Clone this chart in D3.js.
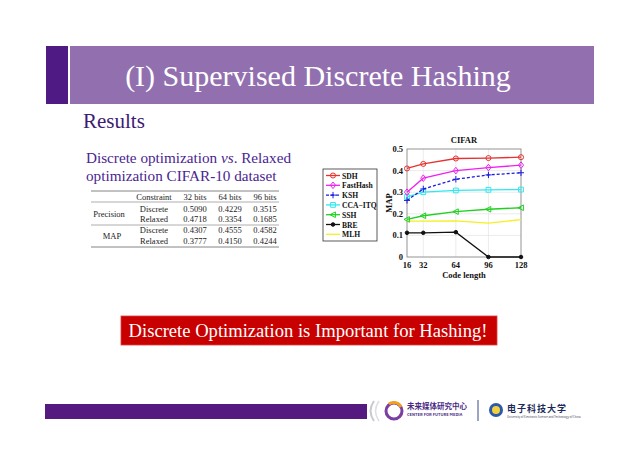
<!DOCTYPE html>
<html>
<head>
<meta charset="utf-8">
<script src="https://cdn.jsdelivr.net/npm/d3@7"></script>
<style>
  body { margin: 0; background: #fff; }
  svg { display: block; }
</style>
</head>
<body>
<svg id="slide"></svg>
<script>
// chart data
var codeLengths = [16, 32, 64, 96, 128];
var methodNames = ["SDH", "FastHash", "KSH", "CCA\u2212ITQ", "SSH", "BRE", "MLH"];
var sdhMap      = [0.410, 0.431, 0.456, 0.458, 0.462];
var fastHashMap = [0.300, 0.365, 0.400, 0.414, 0.425];
var kshMap      = [0.262, 0.315, 0.360, 0.380, 0.390];
var ccaItqMap   = [0.278, 0.300, 0.308, 0.311, 0.312];
var sshMap      = [0.174, 0.191, 0.210, 0.221, 0.228];
var breMap      = [0.112, 0.112, 0.115, 0.000, 0.000];
var mlhMap      = [0.166, 0.166, 0.167, 0.157, 0.173];
var yTicks = [0, 0.1, 0.2, 0.3, 0.4, 0.5];

// table data
var tableHeader = ["Constraint", "32 bits", "64 bits", "96 bits"];
var precisionDiscrete = [0.5090, 0.4229, 0.3515];
var precisionRelaxed  = [0.4718, 0.3354, 0.1685];
var mapDiscrete = [0.4307, 0.4555, 0.4582];
var mapRelaxed  = [0.3777, 0.4150, 0.4244];

var W = 640, H = 452;
var SERIF = "'Liberation Serif', 'Times New Roman', serif";
var CJK = "'Noto Sans CJK SC', 'Noto Sans', sans-serif";
var svg = d3.select("#slide").attr("width", W).attr("height", H).attr("font-family", SERIF);
svg.append("rect").attr("width", W).attr("height", H).attr("fill", "#fff");

// ---- title bar ----
svg.append("rect").attr("x", 46).attr("y", 46).attr("width", 22).attr("height", 58).attr("fill", "#4f1a84");
svg.append("rect").attr("x", 70).attr("y", 46).attr("width", 524).attr("height", 58).attr("fill", "#9270b0");
svg.append("text").attr("x", 318).attr("y", 86).attr("text-anchor", "middle")
   .attr("font-size", 30).attr("fill", "#fff").text("(I) Supervised Discrete Hashing");

svg.append("text").attr("x", 83).attr("y", 128).attr("font-size", 21).attr("fill", "#3c1c72").text("Results");

var sub = svg.append("text").attr("font-size", 15.2).attr("fill", "#4a2590");
sub.append("tspan").attr("x", 86).attr("y", 163).text("Discrete optimization ");
sub.append("tspan").attr("font-style", "italic").text("vs");
sub.append("tspan").text(". Relaxed");
sub.append("tspan").attr("x", 86).attr("y", 181).text("optimization CIFAR-10 dataset");

// ---- table ----
var fmt = d3.format(".4f");
var colX = [154, 195, 230, 265];
var tbl = svg.append("g").attr("font-size", 8.5).attr("fill", "#222").attr("text-anchor", "middle");
var rule = function(y, c) {
  tbl.append("line").attr("x1", 91).attr("x2", 279).attr("y1", y).attr("y2", y)
     .attr("stroke", c).attr("stroke-width", 0.8);
};
rule(191, "#666"); rule(202, "#999"); rule(225, "#999"); rule(247, "#666");
tableHeader.forEach(function(h, i) {
  tbl.append("text").attr("x", colX[i]).attr("y", 199.5).text(h);
});
var rows = [
  {c: "Discrete", v: precisionDiscrete, y: 211.5},
  {c: "Relaxed",  v: precisionRelaxed,  y: 222},
  {c: "Discrete", v: mapDiscrete,       y: 233},
  {c: "Relaxed",  v: mapRelaxed,        y: 243.5}
];
rows.forEach(function(r) {
  tbl.append("text").attr("x", colX[0]).attr("y", r.y).text(r.c);
  r.v.forEach(function(v, i) {
    tbl.append("text").attr("x", colX[i + 1]).attr("y", r.y).text(fmt(v));
  });
});
tbl.append("text").attr("x", 109).attr("y", 217).text("Precision");
tbl.append("text").attr("x", 112).attr("y", 238.5).text("MAP");

// ---- chart ----
var x = d3.scaleLinear().domain([16, 128]).range([407, 521]);
var y = d3.scaleLinear().domain([0, 0.5]).range([257, 149]);

var ch = svg.append("g");
// grid
ch.selectAll(".gx").data(codeLengths.slice(1, -1)).enter().append("line")
  .attr("x1", d => x(d)).attr("x2", d => x(d)).attr("y1", y(0)).attr("y2", y(0.5))
  .attr("stroke", "#e2e2e2").attr("stroke-width", 0.7);
ch.selectAll(".gy").data(yTicks.slice(1, -1)).enter().append("line")
  .attr("x1", x(16)).attr("x2", x(128)).attr("y1", d => y(d)).attr("y2", d => y(d))
  .attr("stroke", "#e2e2e2").attr("stroke-width", 0.7);
ch.append("rect").attr("x", x(16)).attr("y", y(0.5)).attr("width", x(128) - x(16))
  .attr("height", y(0) - y(0.5)).attr("fill", "none").attr("stroke", "#888").attr("stroke-width", 0.9);

var symPaths = {
  circle:   d3.symbol().type(d3.symbolCircle).size(20)(),
  diamond:  "M0,-3.3L2.6,0L0,3.3L-2.6,0Z",
  plus:     "M-3,0H3M0,-3.2V3.2",
  square:   "M-2.4,-2.4H2.4V2.4H-2.4Z",
  tri:      "M-3,0L2.4,-2.8L2.4,2.8Z",
  dot:      d3.symbol().type(d3.symbolCircle).size(10)(),
  none:     ""
};
var series = [
  {name: methodNames[0], vals: sdhMap,      color: "#e8322f", dash: null,  sym: "circle",  fill: "none"},
  {name: methodNames[1], vals: fastHashMap, color: "#f020f0", dash: null,  sym: "diamond", fill: "none"},
  {name: methodNames[2], vals: kshMap,      color: "#1a1ae0", dash: "3,2", sym: "plus",    fill: "none"},
  {name: methodNames[3], vals: ccaItqMap,   color: "#30e8f0", dash: null,  sym: "square",  fill: "none"},
  {name: methodNames[4], vals: sshMap,      color: "#20d020", dash: null,  sym: "tri",     fill: "none"},
  {name: methodNames[5], vals: breMap,      color: "#111",    dash: null,  sym: "dot",     fill: "#111"},
  {name: methodNames[6], vals: mlhMap,      color: "#f4f020", dash: null,  sym: "none",    fill: "none"}
];
var line = d3.line().x((d, i) => x(codeLengths[i])).y(d => y(d));
series.slice().reverse().forEach(function(s) {
  ch.append("path").attr("d", line(s.vals)).attr("fill", "none").attr("stroke", s.color)
    .attr("stroke-width", 1.3).attr("stroke-dasharray", s.dash);
  ch.selectAll(null).data(s.vals).enter().append("path")
    .attr("transform", (d, i) => "translate(" + x(codeLengths[i]) + "," + y(d) + ")")
    .attr("d", symPaths[s.sym]).attr("fill", s.fill).attr("stroke", s.color).attr("stroke-width", 1);
});

var lab = svg.append("g").attr("font-size", 8.5).attr("font-weight", "bold").attr("fill", "#111");
yTicks.forEach(function(t) {
  lab.append("text").attr("x", 403).attr("y", y(t) + 3).attr("text-anchor", "end").text(t === 0 ? "0" : t);
});
codeLengths.forEach(function(c) {
  lab.append("text").attr("x", x(c)).attr("y", 267.5).attr("text-anchor", "middle").text(c);
});
lab.append("text").attr("x", 464).attr("y", 277.5).attr("text-anchor", "middle").text("Code length");
lab.append("text").attr("x", 464).attr("y", 143).attr("text-anchor", "middle").text("CIFAR");
lab.append("text").attr("transform", "translate(392,203) rotate(-90)").attr("text-anchor", "middle").text("MAP");

// legend
var lg = svg.append("g");
lg.append("rect").attr("x", 323).attr("y", 169).attr("width", 54).attr("height", 72)
  .attr("fill", "#fff").attr("stroke", "#333").attr("stroke-width", 0.8);
series.forEach(function(s, i) {
  var ly = 175.5 + i * 9.8;
  lg.append("line").attr("x1", 326).attr("x2", 340).attr("y1", ly).attr("y2", ly)
    .attr("stroke", s.color).attr("stroke-width", 1.3).attr("stroke-dasharray", s.dash);
  lg.append("path").attr("transform", "translate(333," + ly + ")").attr("d", symPaths[s.sym])
    .attr("fill", s.fill).attr("stroke", s.color).attr("stroke-width", 1);
  lg.append("text").attr("x", 342).attr("y", ly + 3).attr("font-size", 7.6).attr("font-weight", "bold")
    .attr("fill", "#111").text(s.name);
});

// ---- red call-out ----
svg.append("rect").attr("x", 121).attr("y", 316).attr("width", 376).attr("height", 29)
  .attr("fill", "#c80000").attr("stroke", "#e04040").attr("stroke-width", 0.8);
svg.append("text").attr("x", 308).attr("y", 337).attr("text-anchor", "middle").attr("font-size", 18.6)
  .attr("fill", "#fff").text("Discrete Optimization is Important for Hashing!");

// ---- footer ----
svg.append("rect").attr("x", 45).attr("y", 404).attr("width", 322).attr("height", 15).attr("fill", "#541a80");
svg.append("path").attr("d", "M374,401 Q367,411 374,421").attr("fill", "none").attr("stroke", "#c8c8d0").attr("stroke-width", 2);
svg.append("path").attr("d", "M379,401 Q372,411 379,421").attr("fill", "none").attr("stroke", "#dedee4").attr("stroke-width", 1.5);
svg.append("circle").attr("cx", 394).attr("cy", 411).attr("r", 8).attr("fill", "none").attr("stroke", "#7a3fa0").attr("stroke-width", 3);
svg.append("path").attr("d", "M389,404 A8,8 0 0 1 401,407").attr("fill", "none").attr("stroke", "#f0a020").attr("stroke-width", 3);
svg.append("text").attr("x", 407).attr("y", 409).attr("font-size", 7.5).attr("font-weight", "bold")
  .attr("font-family", CJK).attr("fill", "#4a2a86").text("未来媒体研究中心");
svg.append("text").attr("x", 407).attr("y", 415.5).attr("font-size", 4).attr("font-weight", "bold")
  .attr("font-family", CJK).attr("fill", "#4a2a86").text("CENTER FOR FUTURE MEDIA");
svg.append("line").attr("x1", 478).attr("x2", 478).attr("y1", 400).attr("y2", 421).attr("stroke", "#3a4a8a").attr("stroke-width", 1);
svg.append("circle").attr("cx", 496).attr("cy", 410).attr("r", 7).attr("fill", "#2a5aa8");
svg.append("circle").attr("cx", 496).attr("cy", 410).attr("r", 4).attr("fill", "#f0d040");
svg.append("text").attr("x", 507).attr("y", 412).attr("font-size", 9).attr("font-weight", "bold")
  .attr("font-family", CJK).attr("fill", "#1c2a5a").attr("letter-spacing", 1).text("电子科技大学");
svg.append("text").attr("x", 507).attr("y", 418).attr("font-size", 2.8)
  .attr("font-family", CJK).attr("fill", "#445").text("University of Electronic Science and Technology of China");
</script>
</body>
</html>
